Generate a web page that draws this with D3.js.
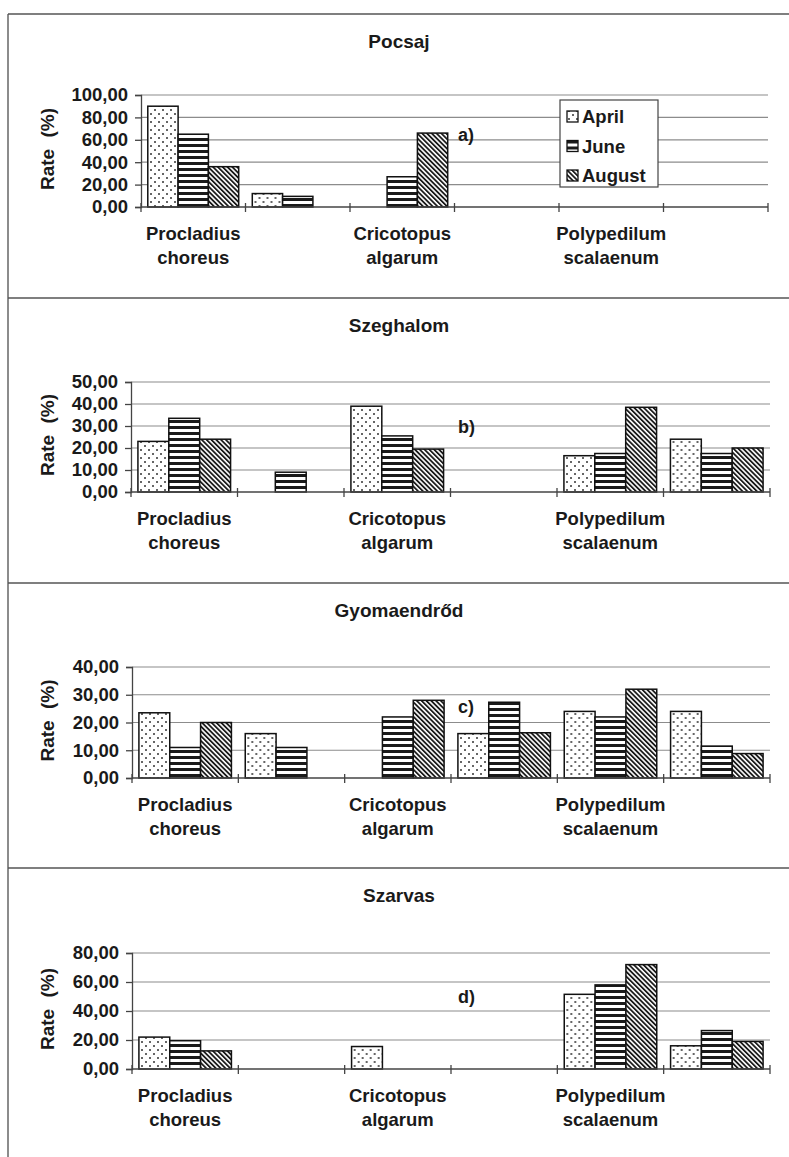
<!DOCTYPE html>
<html>
<head>
<meta charset="utf-8">
<script src="https://cdn.jsdelivr.net/npm/d3@7"></script>
<style>
  body { margin: 0; background: #fff; }
  text { font-family: "Liberation Sans", Arial, sans-serif; font-weight: bold; fill: #1a1a1a; }
</style>
</head>
<body>
<div class="canvas"></div>
<script>
// data
const months = ["April", "June", "August"];
const categories = ["Procladius choreus", "", "Cricotopus algarum", "", "Polypedilum scalaenum", ""];
const sites = ["Pocsaj", "Szeghalom", "Gyomaendrőd", "Szarvas"];
const panelTags = ["a)", "b)", "c)", "d)"];
const yMaxes = [100, 50, 40, 80];
const ySteps = [20, 10, 10, 20];

const pocsajApril = [90, 12, 0, 0, 0, 0];
const pocsajJune = [65, 9.5, 27, 0, 0, 0];
const pocsajAugust = [36, 0, 66, 0, 0, 0];

const szeghalomApril = [23, 0, 39, 0, 16.5, 24];
const szeghalomJune = [33.5, 9, 25.5, 0, 17.5, 17.5];
const szeghalomAugust = [24, 0, 19.5, 0, 38.5, 20];

const gyomaApril = [23.5, 16, 0, 16, 24, 24];
const gyomaJune = [11, 11, 22, 27.3, 22, 11.5];
const gyomaAugust = [20, 0, 28, 16.3, 32, 8.8];

const szarvasApril = [22, 0, 15.5, 0, 51.5, 16];
const szarvasJune = [19.5, 0, 0, 0, 58, 26.5];
const szarvasAugust = [12.5, 0, 0, 0, 72, 19];

const siteSeries = [
  [pocsajApril, pocsajJune, pocsajAugust],
  [szeghalomApril, szeghalomJune, szeghalomAugust],
  [gyomaApril, gyomaJune, gyomaAugust],
  [szarvasApril, szarvasJune, szarvasAugust],
];

// layout
const w = 789;
const h = 1157;
const frameLeft = 8;
const panelTops = [14, 298, 583, 868];
const plotTops = [95, 382, 667, 953];
const plotBottoms = [207, 492, 778, 1069];
const plotLefts = [141, 131, 132, 132];
const plotRights = [768, 770, 770, 770];
const tagY = [135, 427, 707, 997];

const svg = d3.select(".canvas").append("svg").attr("width", w).attr("height", h);

// fill patterns
const defs = svg.append("defs");

const dots = defs.append("pattern").attr("id", "pat-april")
  .attr("patternUnits", "userSpaceOnUse").attr("width", 8).attr("height", 8);
dots.append("rect").attr("width", 8).attr("height", 8).attr("fill", "#fff");
dots.append("circle").attr("cx", 2).attr("cy", 2).attr("r", 1).attr("fill", "#333");
dots.append("circle").attr("cx", 6).attr("cy", 6).attr("r", 1).attr("fill", "#333");

const stripes = defs.append("pattern").attr("id", "pat-june")
  .attr("patternUnits", "userSpaceOnUse").attr("width", 6).attr("height", 6);
stripes.append("rect").attr("width", 6).attr("height", 6).attr("fill", "#fff");
stripes.append("rect").attr("y", 0).attr("width", 6).attr("height", 3).attr("fill", "#1a1a1a");

const diag = defs.append("pattern").attr("id", "pat-august")
  .attr("patternUnits", "userSpaceOnUse").attr("width", 3.4).attr("height", 10)
  .attr("patternTransform", "rotate(-45)");
diag.append("rect").attr("width", 3.4).attr("height", 10).attr("fill", "#fff");
diag.append("rect").attr("width", 1.8).attr("height", 10).attr("fill", "#1a1a1a");

const fills = ["url(#pat-april)", "url(#pat-june)", "url(#pat-august)"];

// frame: left edge and separators between the panels
svg.append("line")
  .attr("x1", frameLeft).attr("x2", frameLeft)
  .attr("y1", panelTops[0]).attr("y2", h)
  .attr("stroke", "#666").attr("stroke-width", 1.5);

svg.selectAll(".sep")
  .data(panelTops)
  .enter()
  .append("line")
  .attr("class", "sep")
  .attr("x1", frameLeft).attr("x2", w)
  .attr("y1", (d) => d).attr("y2", (d) => d)
  .attr("stroke", "#555").attr("stroke-width", 1.5);

sites.forEach((site, p) => {
  const panel = svg.append("g");
  const left = plotLefts[p];
  const right = plotRights[p];
  const top = plotTops[p];
  const bottom = plotBottoms[p];

  const x = d3.scaleBand().domain(d3.range(categories.length)).range([left, right]).padding(0);
  const bw = x.bandwidth();
  const gap = bw * 0.13;
  const xm = d3.scaleBand().domain(months).range([gap / 2, bw - gap / 2]).padding(0);
  const y = d3.scaleLinear().domain([0, yMaxes[p]]).range([bottom, top]);
  const ticks = d3.range(0, yMaxes[p] + 0.001, ySteps[p]);

  // title
  panel.append("text")
    .attr("x", 399)
    .attr("y", panelTops[p] + 34)
    .attr("text-anchor", "middle")
    .style("font-size", "19px")
    .text(site);

  // gridlines
  panel.selectAll(".grid")
    .data(ticks.slice(1))
    .enter()
    .append("line")
    .attr("x1", left).attr("x2", right)
    .attr("y1", (d) => y(d)).attr("y2", (d) => y(d))
    .attr("stroke", "#8c8c8c").attr("stroke-width", 1.2);

  // y axis
  const yAxis = panel.append("g")
    .attr("transform", `translate(${left},0)`)
    .call(d3.axisLeft(y).tickValues(ticks).tickSize(6).tickPadding(7)
      .tickFormat((d) => d3.format(".2f")(d).replace(".", ",")));
  yAxis.select(".domain").attr("stroke", "#444").attr("stroke-width", 1.3);
  yAxis.selectAll(".tick line").attr("stroke", "#444").attr("stroke-width", 1.3);
  yAxis.selectAll(".tick text")
    .style("font-size", "18.5px")
    .style("font-family", "'Liberation Sans', Arial, sans-serif")
    .style("font-weight", "bold")
    .attr("fill", "#1a1a1a");

  // y title
  panel.append("text")
    .attr("transform", `translate(54,${(top + bottom) / 2 - 2}) rotate(-90)`)
    .attr("text-anchor", "middle")
    .style("font-size", "19px")
    .style("word-spacing", "6px")
    .text("Rate (%)");

  // bars
  const groups = panel.selectAll(".cat")
    .data(d3.range(categories.length))
    .enter()
    .append("g")
    .attr("transform", (d) => `translate(${x(d)},0)`);

  groups.selectAll("rect")
    .data((c) => months.map((m, i) => ({ month: m, i: i, value: siteSeries[p][i][c] })).filter((d) => d.value > 0))
    .enter()
    .append("rect")
    .attr("x", (d) => xm(d.month))
    .attr("width", xm.bandwidth())
    .attr("y", (d) => y(d.value))
    .attr("height", (d) => bottom - y(d.value))
    .attr("fill", (d) => fills[d.i])
    .attr("stroke", "#111")
    .attr("stroke-width", 1.5);

  // x axis with crossing tick marks at category boundaries
  panel.append("line")
    .attr("x1", left).attr("x2", right)
    .attr("y1", bottom).attr("y2", bottom)
    .attr("stroke", "#444").attr("stroke-width", 1.3);
  panel.selectAll(".xtick")
    .data(d3.range(categories.length + 1))
    .enter()
    .append("line")
    .attr("x1", (d) => left + d * bw).attr("x2", (d) => left + d * bw)
    .attr("y1", bottom - 4).attr("y2", bottom + 5)
    .attr("stroke", "#444").attr("stroke-width", 1.3);

  // category labels (every other one shown)
  const labels = panel.selectAll(".xlabel")
    .data(categories.map((c, i) => ({ name: c, i: i })).filter((d) => d.name))
    .enter()
    .append("text")
    .attr("text-anchor", "middle")
    .style("font-size", "18.5px");
  labels.append("tspan")
    .attr("x", (d) => x(d.i) + bw / 2)
    .attr("y", bottom + 33)
    .text((d) => d.name.split(" ")[0]);
  labels.append("tspan")
    .attr("x", (d) => x(d.i) + bw / 2)
    .attr("y", bottom + 57)
    .text((d) => d.name.split(" ")[1]);

  // panel tag
  panel.append("text")
    .attr("x", 458)
    .attr("y", tagY[p] + 6)
    .style("font-size", "18px")
    .text(panelTags[p]);

  // legend only in first panel
  if (p === 0) {
    const legend = panel.append("g").attr("transform", "translate(560,100)");
    legend.append("rect")
      .attr("width", 98).attr("height", 87)
      .attr("fill", "#fff").attr("stroke", "#444").attr("stroke-width", 1.2);
    const items = legend.selectAll(".item")
      .data(months)
      .enter()
      .append("g")
      .attr("transform", (d, i) => `translate(7,${17 + i * 29.5})`);
    items.append("rect")
      .attr("x", 0).attr("y", -6)
      .attr("width", 11).attr("height", 11)
      .attr("fill", (d, i) => fills[i])
      .attr("stroke", "#111").attr("stroke-width", 1.3);
    items.append("text")
      .attr("x", 15).attr("y", 6)
      .style("font-size", "18.5px")
      .text((d) => d);
  }
});
</script>
</body>
</html>
